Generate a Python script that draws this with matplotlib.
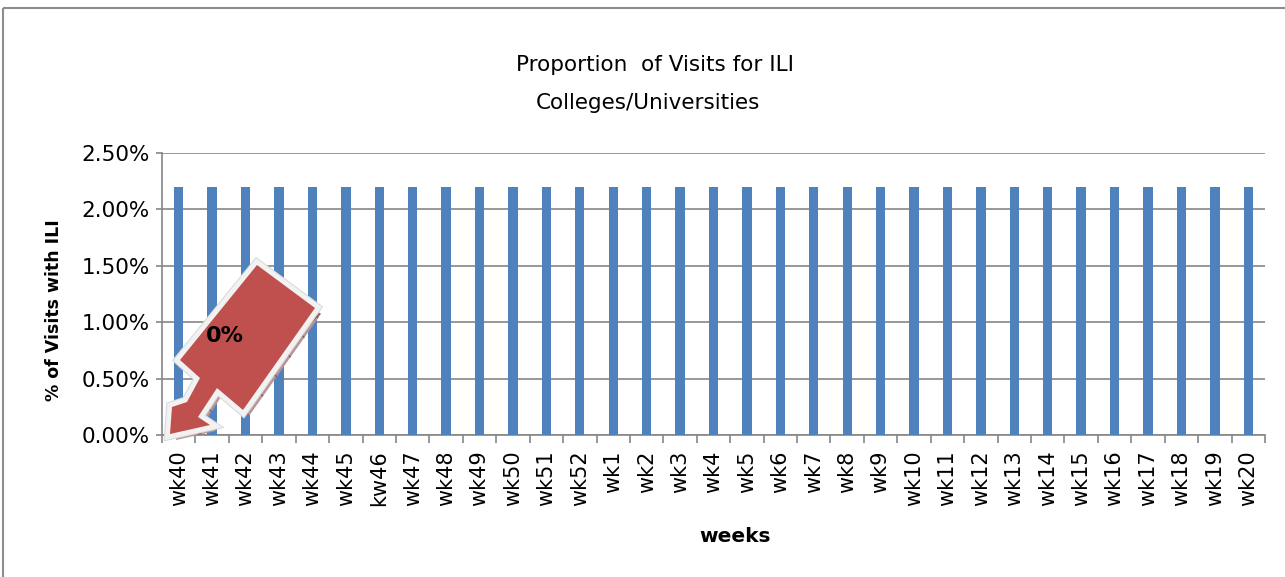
import matplotlib.pyplot as plt
import numpy as np
from matplotlib.patches import Polygon, Rectangle
from matplotlib.transforms import Affine2D
from matplotlib.ticker import PercentFormatter

# weekly proportion of visits for ILI (fraction)
weeks = ['wk40', 'wk41', 'wk42', 'wk43', 'wk44', 'wk45', 'kw46', 'wk47', 'wk48',
         'wk49', 'wk50', 'wk51', 'wk52', 'wk1', 'wk2', 'wk3', 'wk4', 'wk5', 'wk6',
         'wk7', 'wk8', 'wk9', 'wk10', 'wk11', 'wk12', 'wk13', 'wk14', 'wk15',
         'wk16', 'wk17', 'wk18', 'wk19', 'wk20']
ili_prop = [0.022] * len(weeks)
yticks = [0.0, 0.005, 0.01, 0.015, 0.02, 0.025]

W, H = 1285, 577
fig = plt.figure(figsize=(W / 100, H / 100), dpi=100)
ax = fig.add_axes([162 / W, 1 - 435 / H, (1265 - 162) / W, (435 - 153) / H])

x = np.arange(len(weeks))
ax.bar(x, ili_prop, width=0.28, color='#4f81bd', zorder=3)

grey = '#868686'
ax.set_xlim(-0.5, len(weeks) - 0.5)
ax.set_ylim(0, 0.025)
ax.set_yticks(yticks)
ax.yaxis.set_major_formatter(PercentFormatter(1.0, decimals=2))
ax.set_xticks(x)
ax.set_xticklabels(weeks, rotation=90, fontsize=15)
ax.set_xticks(np.arange(len(weeks) + 1) - 0.5, minor=True)
ax.tick_params(axis='x', which='major', length=0, pad=11)
ax.tick_params(axis='x', which='minor', length=6, color=grey, width=1.2)
ax.tick_params(axis='y', length=4, color=grey, width=1.2, labelsize=15.5, pad=5)
ax.grid(axis='y', color=grey, linewidth=1.2, zorder=0)
for s in ['top', 'right']:
    ax.spines[s].set_visible(False)
for s in ['left', 'bottom']:
    ax.spines[s].set_color(grey)
    ax.spines[s].set_linewidth(1.2)

ax.set_xlabel('weeks', fontsize=14.5, fontweight='bold')
ax.xaxis.set_label_coords(0.5195, -0.325)
ax.set_ylabel('% of Visits with ILI', fontsize=12.5, fontweight='bold')
ax.yaxis.set_label_coords(-0.09, 0.443)

fig.text(655 / W, 1 - 65 / H, 'Proportion  of Visits for ILI', ha='center', va='center', fontsize=15.5)
fig.text(648 / W, 1 - 103 / H, 'Colleges/Universities', ha='center', va='center', fontsize=15.5)

# pixel coordinates (from top-left) -> figure
px = Affine2D().scale(1 / W, -1 / H).translate(0, 1) + fig.transFigure

# outer chart border
fig.patches.append(Rectangle((3, 8), W, H, transform=px, fill=False,
                             edgecolor='#8c8c8c', linewidth=1.5))

# callout arrow pointing at the zero line
arrow_pts = [(257, 265), (315, 308), (243, 410), (217, 388), (198, 417),
             (210, 425), (170, 434), (172, 407), (187, 402), (200, 378), (180, 360)]
shadow = [(p[0] + 6, p[1] + 6) for p in arrow_pts]
fig.patches.append(Polygon(shadow, closed=True, transform=px, facecolor='#b89595',
                           edgecolor='#8a5a5a', hatch='x', linewidth=0, zorder=5))
fig.patches.append(Polygon(arrow_pts, closed=True, transform=px, facecolor='#f2f2f2',
                           edgecolor='#d9d9d9', linewidth=8.5, joinstyle='miter', zorder=6))
fig.patches.append(Polygon(arrow_pts, closed=True, transform=px, facecolor='#f2f2f2',
                           edgecolor='#f2f2f2', linewidth=7, joinstyle='miter', zorder=6))
fig.patches.append(Polygon(arrow_pts, closed=True, transform=px, facecolor='#c0504d',
                           edgecolor='none', zorder=7))
fig.text(225 / W, 1 - 336 / H, '0%', ha='center', va='center', fontsize=16,
         fontweight='bold', zorder=8)

fig.savefig('out.png', dpi=100)
